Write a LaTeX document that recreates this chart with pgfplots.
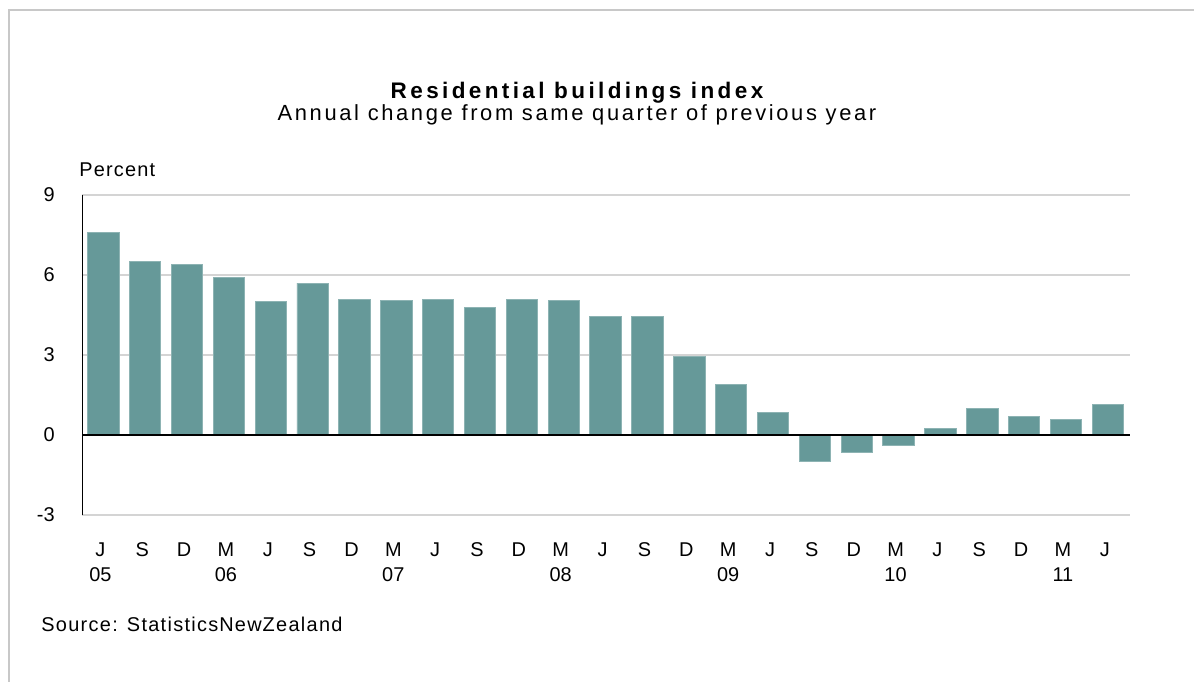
\documentclass[border=0pt]{standalone}
\usepackage{fontspec}
\setmainfont{Liberation Sans}
\usepackage{pgfplots}
\pgfplotsset{compat=1.18}
\definecolor{barfill}{HTML}{669999}
\definecolor{baredge}{HTML}{8DB3B3}
\definecolor{gridc}{HTML}{D4D4D4}
\definecolor{framec}{HTML}{C8C8C8}
\begin{document}
\begin{tikzpicture}
\path[use as bounding box] (0,0) rectangle (597bp,-341bp);
\draw[framec, line width=1bp] (4.5bp,-341bp) -- (4.5bp,-5bp) -- (597bp,-5bp);
\node[anchor=base, inner sep=0pt, font=\fontsize{11.3}{12}\selectfont\bfseries\addfontfeature{LetterSpace=15}] at (288.5bp,-49bp) {Residential buildings index};
\node[anchor=base, inner sep=0pt, font=\fontsize{11}{12}\selectfont\addfontfeature{LetterSpace=12}] at (288.5bp,-60bp) {Annual change from same quarter of previous year};
\node[anchor=base west, inner sep=0pt, font=\fontsize{10}{12}\selectfont\addfontfeature{LetterSpace=6}] at (39.5bp,-88bp) {Percent};
\node[anchor=base west, inner sep=0pt, font=\fontsize{10}{12}\selectfont\addfontfeature{LetterSpace=6.5}] at (20.5bp,-315.5bp) {Source: Statistics\hspace{0.5bp}New\hspace{0.5bp}Zealand};
\begin{axis}[
  at={(41bp,-257.5bp)}, anchor=south west,
  scale only axis, width=524bp, height=160bp,
  xmin=-0.51, xmax=24.53, ymin=-3, ymax=9,
  ytick={-3,0,3,6,9},
  xtick={0,...,24},
  xticklabels={{J\\05},S,D,{M\\06},J,S,D,{M\\07},J,S,D,{M\\08},J,S,D,{M\\09},J,S,D,{M\\10},J,S,D,{M\\11},J},
  /pgf/number format/assume math mode=true,
  ymajorgrids, grid style={gridc, line width=1bp},
  major tick length=0pt,
  axis line style={draw=none},
  tick style={draw=none},
  ticklabel style={font=\fontsize{10}{12.5}\selectfont, inner sep=0pt},
  xticklabel style={align=center, anchor=north, yshift=-13.5bp, xshift=-1.5bp},
  yticklabel style={anchor=east, xshift=-13.5bp},
]
\addplot[ybar, bar width=0.75, fill=barfill, draw=baredge, line width=0.4bp] coordinates {
(0,7.6) (1,6.5) (2,6.4) (3,5.9) (4,5.0) (5,5.7) (6,5.1) (7,5.05) (8,5.1)
(9,4.8) (10,5.1) (11,5.05) (12,4.45) (13,4.45) (14,2.95) (15,1.9) (16,0.85)
(17,-1.0) (18,-0.65) (19,-0.4) (20,0.25) (21,1.0) (22,0.7) (23,0.6) (24,1.15)
};
\draw[black, line width=1bp] (rel axis cs:0,0) -- (rel axis cs:0,1);
\draw[black, line width=1bp] (axis cs:-0.51,0) -- (axis cs:24.53,0);
\end{axis}
\end{tikzpicture}
\end{document}
